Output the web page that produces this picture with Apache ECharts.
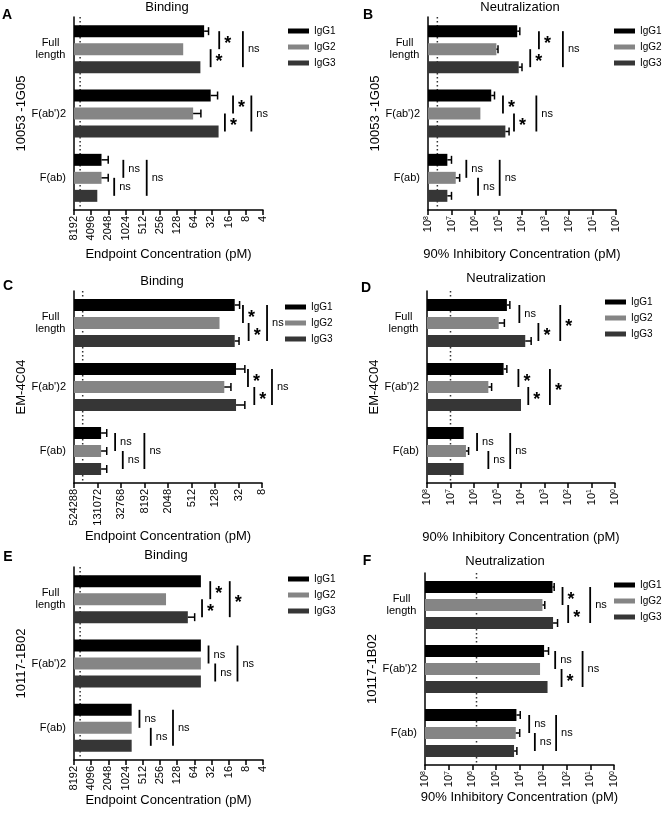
<!DOCTYPE html>
<html>
<head>
<meta charset="utf-8">
<script src="https://cdn.jsdelivr.net/npm/echarts@6/dist/echarts.min.js"></script>
<style>
  html, body { margin: 0; padding: 0; background: #fff; }
  #chart { width: 663px; height: 816px; }
</style>
</head>
<body>
<div id="chart"></div>
<script>
const categories = ['Full\nlength', "F(ab')2", 'F(ab)'];
const isotypes = ['IgG1', 'IgG2', 'IgG3'];

// x tick labels (pM), left to right
const bindTicks = [8192, 4096, 2048, 1024, 512, 256, 128, 64, 32, 16, 8, 4];
const bindTicksWide = [524288, 131072, 32768, 8192, 2048, 512, 128, 32, 8];
const neutTicks = [1e8, 1e7, 1e6, 1e5, 1e4, 1e3, 1e2, 1e1, 1e0];

// rows: Full length, F(ab')2, F(ab) / cols: IgG1, IgG2, IgG3 (pM)
const aMean = [[43, 100, 50], [33, 67, 24], [2700, 2700, 3200]];
const aSd = [[7, 0, 0], [8, 18, 0], [640, 640, 0]];
const bMean = [[16000, 123000, 13800], [204000, 590000, 51000], [15e6, 6.6e6, 15e6]];
const bSd = [[3600, 18000, 3800], [56000, 0, 15500], [5e6, 2.1e6, 5e6]];
const cMean = [[40, 98, 40], [37, 74, 37], [106000, 106000, 106000]];
const cSd = [[10, 0, 9], [15, 24, 15], [30000, 30000, 30000]];
const dMean = [[39800, 89000, 6600], [55000, 245000, 10000], [2.75e6, 2.2e6, 2.75e6]];
const dSd = [[10000, 38000, 2900], [15000, 67000, 0], [0, 0.5e6, 0]];
const eMean = [[49, 200, 83], [49, 49, 49], [800, 800, 800]];
const eSd = [[0, 0, 20], [0, 0, 0], [0, 0, 0]];
const fMean = [[400, 1070, 380], [910, 1350, 650], [13500, 14400, 17000]];
const fSd = [[60, 220, 135], [320, 0, 0], [4200, 4600, 4100]];

// dotted cutoff line for each panel (pM)
const cutoffs = [6400, 4e7, 314000, 1e7, 6400, 660000];

// comparisons per construct: IgG1-IgG2, IgG2-IgG3, IgG1-IgG3
const pairs = [[0, 1], [1, 2], [0, 2]];
// where each bracket sits on the x axis (pM) and its label
const aSigAt = [[23.4, 33.1, 9.0], [13.4, 18.6, 6.4], [1120, 1619, 436]];
const aSig = [['*', '*', 'ns'], ['*', '*', 'ns'], ['ns', 'ns', 'ns']];
const bSigAt = [[1905, 4470, 182], [64600, 21900, 2450], [2.34e6, 741000, 89000]];
const bSig = [['*', '*', 'ns'], ['*', '*', 'ns'], ['ns', 'ns', 'ns']];
const cSigAt = [[24.6, 17.6, 5.94], [18.3, 12.6, 4.44], [46350, 29500, 8250]];
const cSig = [['*', '*', 'ns'], ['*', '*', 'ns'], ['ns', 'ns', 'ns']];
const dSigAt = [[11750, 1820, 214], [12900, 4900, 589], [741000, 245000, 28800]];
const dSig = [['ns', '*', '*'], ['*', '*', '*'], ['ns', 'ns', 'ns']];
const eSigAt = [[33.6, 46.8, 15.3], [36, 27.5, 11.2], [584, 370, 151]];
const eSig = [['*', '*', '*'], ['ns', 'ns', 'ns'], ['ns', 'ns', 'ns']];
const fSigAt = [[151, 87, 10.2], [309, 166, 21.4], [3890, 2240, 282]];
const fSig = [['*', '*', 'ns'], ['ns', '*', 'ns'], ['ns', 'ns', 'ns']];

const colors = ['#000000', '#858585', '#363636'];
const FONT = '"Liberation Sans", Arial, sans-serif';
const BAR_W = 12;
const BAR_STEP = 18; // bar width + gap

const bindName = 'Endpoint Concentration (pM)';
const neutName = '90% Inhibitory Concentration (pM)';

const panels = [
  { mean: aMean, sd: aSd, sigAt: aSigAt, sig: aSig, ticks: bindTicks, cutoff: cutoffs[0], letter: 'A', title: 'Binding', yName: '10053 -1G05', xName: bindName,
    grid: { left: 74, top: 17, width: 189, height: 193 }, xGap: 38, yGap: 44, titlePos: [167, 7], letterPos: [7, 15], legendPos: [288, 25] },
  { mean: bMean, sd: bSd, sigAt: bSigAt, sig: bSig, ticks: neutTicks, cutoff: cutoffs[1], letter: 'B', title: 'Neutralization', yName: '10053 -1G05', xName: neutName, sup: true,
    grid: { left: 428, top: 17, width: 188, height: 193 }, xGap: 38, yGap: 45, titlePos: [520, 7], letterPos: [368, 15], legendPos: [614, 25] },
  { mean: cMean, sd: cSd, sigAt: cSigAt, sig: cSig, ticks: bindTicksWide, cutoff: cutoffs[2], letter: 'C', title: 'Binding', yName: 'EM-4C04', xName: bindName,
    grid: { left: 74, top: 291, width: 188, height: 192 }, xGap: 47, yGap: 44, titlePos: [162, 281], letterPos: [8, 286], legendPos: [285, 301] },
  { mean: dMean, sd: dSd, sigAt: dSigAt, sig: dSig, ticks: neutTicks, cutoff: cutoffs[3], letter: 'D', title: 'Neutralization', yName: 'EM-4C04', xName: neutName, sup: true,
    grid: { left: 427, top: 291, width: 188, height: 192 }, xGap: 48, yGap: 44, titlePos: [506, 278], letterPos: [366, 288], legendPos: [605, 296] },
  { mean: eMean, sd: eSd, sigAt: eSigAt, sig: eSig, ticks: bindTicks, cutoff: cutoffs[4], letter: 'E', title: 'Binding', yName: '10117-1B02', xName: bindName,
    grid: { left: 74, top: 567, width: 189, height: 193 }, xGap: 30, yGap: 44, titlePos: [166, 555], letterPos: [8, 557], legendPos: [288, 573] },
  { mean: fMean, sd: fSd, sigAt: fSigAt, sig: fSig, ticks: neutTicks, cutoff: cutoffs[5], letter: 'F', title: 'Neutralization', yName: '10117-1B02', xName: neutName, sup: true,
    grid: { left: 425, top: 573, width: 189, height: 192 }, xGap: 25, yGap: 43, titlePos: [505, 561], letterPos: [367, 561], legendPos: [614, 579] }
];

// position of a concentration on the panel's log axis (tick index units)
function toAxis(v, ticks) {
  return Math.log(ticks[0] / v) / Math.log(ticks[0] / ticks[1]);
}

const supDigits = '⁰¹²³⁴⁵⁶⁷⁸⁹';

const chart = echarts.init(document.getElementById('chart'), null, { renderer: 'canvas' });

const grids = [], xAxes = [], yAxes = [], series = [], legends = [], graphics = [];

panels.forEach((p, pi) => {
  grids.push(Object.assign({ containLabel: false, outerBoundsMode: 'none' }, p.grid));

  xAxes.push({
    type: 'value', gridIndex: pi, min: 0, max: p.ticks.length - 1, interval: 1,
    name: p.xName, nameLocation: 'middle', nameGap: p.xGap,
    nameTextStyle: { fontSize: 13, color: '#000', fontFamily: FONT },
    axisLine: { show: true, lineStyle: { color: '#000', width: 1.5 } },
    axisTick: { show: true, length: 5, lineStyle: { color: '#000', width: 1.5 } },
    splitLine: { show: false },
    axisLabel: {
      rotate: 90, margin: 6, fontSize: 11, color: '#000', fontFamily: FONT,
      formatter: v => {
        const t = p.ticks[Math.round(v)];
        if (!p.sup) return String(t);
        const e = Math.round(Math.log10(t));
        return '{b|10}{s|' + e + '}';
      },
      rich: {
        b: { fontSize: 11, fontFamily: FONT, color: '#000' },
        s: { fontSize: 7, fontFamily: FONT, color: '#000', verticalAlign: 'top' }
      }
    }
  });

  yAxes.push({
    type: 'category', gridIndex: pi, data: categories, inverse: true,
    name: p.yName, nameLocation: 'middle', nameGap: p.yGap,
    nameTextStyle: { fontSize: 13, color: '#000', fontFamily: FONT },
    axisLine: { show: true, lineStyle: { color: '#000', width: 1.5 } },
    axisTick: { show: false },
    axisLabel: {
      margin: 8, fontSize: 11, color: '#000', fontFamily: FONT, lineHeight: 12,
      formatter: v => v.indexOf('\n') >= 0 ? v.split('\n').map(s => '{w|' + s + '}').join('\n') : v,
      rich: { w: { width: 31, align: 'center', fontSize: 11, fontFamily: FONT, color: '#000', lineHeight: 12 } }
    }
  });

  // dotted cutoff line, behind the bars
  series.push({
    type: 'custom', xAxisIndex: pi, yAxisIndex: pi, z: 1, silent: true, clip: false,
    data: [[toAxis(p.cutoff, p.ticks), 0]],
    renderItem: (params, api) => {
      const x = api.coord([api.value(0), 0])[0];
      const cs = params.coordSys;
      return {
        type: 'line',
        shape: { x1: x, y1: cs.y, x2: x, y2: cs.y + cs.height },
        style: { stroke: '#333', lineWidth: 1.5, lineDash: [1.5, 2.5] }
      };
    }
  });

  isotypes.forEach((iso, k) => {
    series.push({
      type: 'bar', name: iso, xAxisIndex: pi, yAxisIndex: pi,
      barWidth: BAR_W, barGap: '50%', silent: true,
      itemStyle: { color: colors[k] },
      data: p.mean.map(row => toAxis(row[k], p.ticks))
    });
  });

  // error bars (drawn on the low-concentration side only)
  const errData = [];
  p.mean.forEach((row, c) => row.forEach((m, k) => {
    if (p.sd[c][k] > 0) errData.push([toAxis(m, p.ticks), c, k, toAxis(m - p.sd[c][k], p.ticks)]);
  }));
  series.push({
    type: 'custom', xAxisIndex: pi, yAxisIndex: pi, z: 3, silent: true, clip: false,
    data: errData,
    renderItem: (params, api) => {
      const s = api.coord([api.value(0), api.value(1)]);
      const e = api.coord([api.value(3), api.value(1)]);
      const y = s[1] + (api.value(2) - 1) * BAR_STEP;
      const st = { stroke: '#000', lineWidth: 1.5 };
      return {
        type: 'group', children: [
          { type: 'line', shape: { x1: s[0], y1: y, x2: e[0], y2: y }, style: st },
          { type: 'line', shape: { x1: e[0], y1: y - 4, x2: e[0], y2: y + 4 }, style: st }
        ]
      };
    }
  });

  // significance brackets
  const sigData = [], sigText = [];
  p.sigAt.forEach((row, c) => row.forEach((at, j) => {
    sigData.push([toAxis(at, p.ticks), c, pairs[j][0], pairs[j][1]]);
    sigText.push(p.sig[c][j]);
  }));
  series.push({
    type: 'custom', xAxisIndex: pi, yAxisIndex: pi, z: 3, silent: true, clip: false,
    data: sigData,
    renderItem: (params, api) => {
      const c = api.coord([api.value(0), api.value(1)]);
      const y1 = c[1] + (api.value(2) - 1) * BAR_STEP;
      const y2 = c[1] + (api.value(3) - 1) * BAR_STEP;
      const label = sigText[params.dataIndex];
      const star = label === '*';
      return {
        type: 'group', children: [
          { type: 'line', shape: { x1: c[0], y1: y1, x2: c[0], y2: y2 }, style: { stroke: '#000', lineWidth: 1.8 } },
          { type: 'text', x: c[0] + 5, y: (y1 + y2) / 2 + (star ? 4 : 0),
            style: { text: label, fill: '#000', fontSize: star ? 18 : 11, fontWeight: star ? 'bold' : 'normal',
              fontFamily: FONT, align: 'left', verticalAlign: 'middle' } }
        ]
      };
    }
  });

  legends.push({
    data: isotypes, orient: 'vertical', left: p.legendPos[0], top: p.legendPos[1],
    padding: 0, icon: 'rect', itemWidth: 21, itemHeight: 5, itemGap: 4,
    selectedMode: false,
    textStyle: { fontSize: 10, lineHeight: 12, color: '#000', fontFamily: FONT }
  });

  graphics.push({
    type: 'text', x: p.titlePos[0], y: p.titlePos[1],
    style: { text: p.title, fontSize: 13, fontFamily: FONT, fill: '#000', align: 'center', verticalAlign: 'middle' }
  });
  graphics.push({
    type: 'text', x: p.letterPos[0], y: p.letterPos[1],
    style: { text: p.letter, fontSize: 14, fontWeight: 'bold', fontFamily: FONT, fill: '#000', align: 'center', verticalAlign: 'middle' }
  });
});

chart.setOption({
  animation: false,
  backgroundColor: '#fff',
  grid: grids,
  xAxis: xAxes,
  yAxis: yAxes,
  legend: legends,
  graphic: graphics,
  series: series
});
</script>
</body>
</html>
